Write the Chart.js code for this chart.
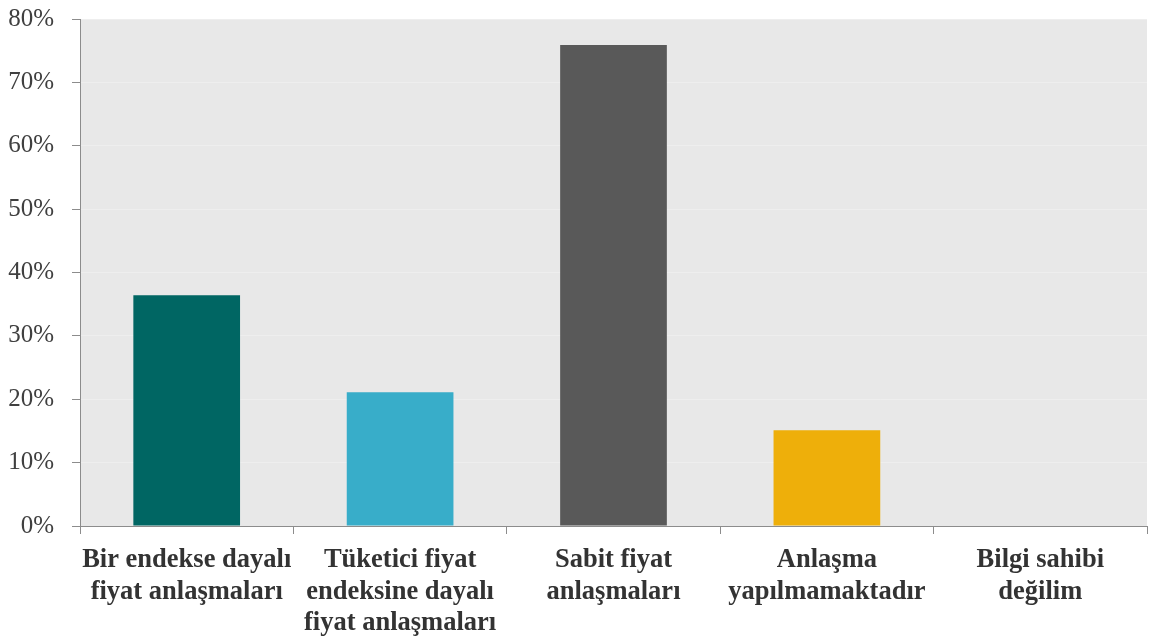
<!DOCTYPE html>
<html>
<head>
<meta charset="utf-8">
<script src="https://cdn.jsdelivr.net/npm/chart.js@4/dist/chart.umd.min.js"></script>
<style>
  html, body { margin: 0; padding: 0; background: #ffffff; }
  #wrap { width: 1151px; height: 639px; }
</style>
</head>
<body>
<div id="wrap"><canvas id="barChart"></canvas></div>
<script>
// Kategoriler (çok satırlı etiketler)
const categories = [
    ["Bir endekse dayalı", "fiyat anlaşmaları"],
    ["Tüketici fiyat", "endeksine dayalı", "fiyat anlaşmaları"],
    ["Sabit fiyat", "anlaşmaları"],
    ["Anlaşma", "yapılmamaktadır"],
    ["Bilgi sahibi", "değilim"],
];

// Yüzde değerleri
const percentages = [36.4, 21.1, 75.9, 15.1, 0];

const barColors = ["#006663", "#38adc9", "#595959", "#eeaf0a", "#a5a5a5"];

// Y ekseni etiketleri
const yTicks = [0, 10, 20, 30, 40, 50, 60, 70, 80];

// Çizim alanı arka planı
const plotBackground = {
    id: "plotBackground",
    beforeDraw(chart) {
        const { ctx, chartArea } = chart;
        ctx.save();
        ctx.fillStyle = "#e8e8e8";
        ctx.fillRect(chartArea.left, chartArea.top,
            chartArea.right - chartArea.left, chartArea.bottom - chartArea.top);
        ctx.restore();
    },
};

new Chart(document.getElementById("barChart"), {
    type: "bar",
    data: {
        labels: categories,
        datasets: [
            {
                data: percentages,
                backgroundColor: barColors,
                borderWidth: 0,
                barPercentage: 0.5,
                categoryPercentage: 1.0,
            },
        ],
    },
    options: {
        responsive: true,
        maintainAspectRatio: false,
        animation: false,
        layout: {
            padding: { top: 0, right: 4, left: 0, bottom: 0 },
        },
        scales: {
            x: {
                offset: true,
                afterFit(axis) {
                    axis.height = 113;
                },
                grid: {
                    offset: true,
                    drawOnChartArea: false,
                    tickLength: 8,
                    tickColor: "#8c8c8c",
                },
                border: { color: "#8c8c8c", width: 1 },
                ticks: {
                    color: "#333333",
                    maxRotation: 0,
                    autoSkip: false,
                    padding: 10,
                    font: {
                        family: "'Liberation Serif', 'Times New Roman', serif",
                        size: 26.5,
                        weight: "bold",
                        lineHeight: 1.2,
                    },
                },
            },
            y: {
                min: 0,
                max: 80,
                afterBuildTicks(axis) {
                    axis.ticks = yTicks.map((v) => ({ value: v }));
                },
                afterFit(axis) {
                    // eksen genişliği ve üst boşluk
                    axis.width = 80;
                    axis.paddingTop = 19;
                    axis.paddingBottom = 0;
                },
                grid: {
                    color: "#eeeeee",
                    tickLength: 8,
                    tickColor: "#8c8c8c",
                },
                border: { color: "#8c8c8c", width: 1 },
                ticks: {
                    color: "#404040",
                    padding: 18,
                    callback: (v) => v + "%",
                    font: {
                        family: "'Liberation Serif', 'Times New Roman', serif",
                        size: 25,
                    },
                },
            },
        },
        plugins: {
            legend: { display: false },
            tooltip: { enabled: false },
        },
    },
    plugins: [plotBackground],
});
</script>
</body>
</html>
